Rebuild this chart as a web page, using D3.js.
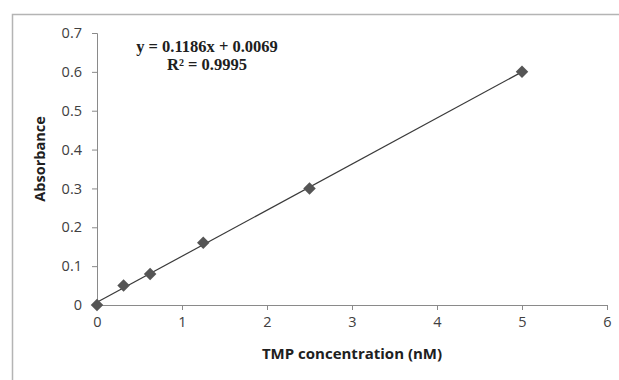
<!DOCTYPE html>
<html>
<head>
<meta charset="utf-8">
<script src="https://cdn.jsdelivr.net/npm/d3@7"></script>
<style>
  body { margin: 0; background: #fff; }
  svg { display: block; }
</style>
</head>
<body>
<div id="chart"></div>
<script>
const conc = [0, 0.3125, 0.625, 1.25, 2.5, 5];
const absorbance = [0, 0.05, 0.08, 0.16, 0.3, 0.6];
const slope = 0.1186, intercept = 0.0069;
const xTicks = [0, 1, 2, 3, 4, 5, 6];
const yTicks = [0, 0.1, 0.2, 0.3, 0.4, 0.5, 0.6, 0.7];

const W = 619, H = 380;
const margin = { top: 33, right: 12, bottom: 75, left: 97 };
const width = W - margin.left - margin.right;
const height = H - margin.top - margin.bottom;
const font = "'Open Sans', Lato, sans-serif";

const root = d3.select("#chart").append("svg")
    .attr("width", W)
    .attr("height", H);

// chart area border (runs off the right and bottom)
root.append("rect")
    .attr("x", 12.5).attr("y", 14.5)
    .attr("width", W + 20).attr("height", H + 20)
    .attr("fill", "none")
    .attr("stroke", "#b4b4b4")
    .attr("stroke-width", 1.5);

const svg = root.append("g")
    .attr("transform", `translate(${margin.left},${margin.top})`);

const x = d3.scaleLinear().domain([0, 6]).range([0, width]);
const y = d3.scaleLinear().domain([0, 0.7]).range([height, 0]);

const xAxis = svg.append("g")
    .attr("transform", `translate(0,${height})`)
    .call(d3.axisBottom(x).tickValues(xTicks).tickSize(5).tickPadding(7).tickFormat(d3.format("d")));

const yAxis = svg.append("g")
    .call(d3.axisLeft(y).tickValues(yTicks).tickSize(5).tickPadding(10).tickFormat(d => d === 0 ? "0" : d3.format(".1f")(d)));

[xAxis, yAxis].forEach(a => {
    a.select(".domain").attr("stroke", "#8a8a8a");
    a.selectAll(".tick line").attr("stroke", "#8a8a8a");
    a.selectAll(".tick text")
        .attr("fill", "#404040")
        .attr("font-family", font)
        .attr("font-size", "14.5px");
});

svg.append("text")
    .attr("x", width / 2)
    .attr("y", height + 54)
    .attr("text-anchor", "middle")
    .attr("font-family", font)
    .attr("font-weight", "bold")
    .attr("font-size", "15px")
    .attr("fill", "#202020")
    .text("TMP concentration (nM)");

svg.append("text")
    .attr("transform", "rotate(-90)")
    .attr("x", -(height / 2) + 10)
    .attr("y", -52)
    .attr("text-anchor", "middle")
    .attr("font-family", font)
    .attr("font-weight", "bold")
    .attr("font-size", "14.5px")
    .attr("fill", "#202020")
    .text("Absorbance");

// linear trendline
svg.append("line")
    .attr("x1", x(0)).attr("y1", y(intercept))
    .attr("x2", x(5)).attr("y2", y(slope * 5 + intercept))
    .attr("stroke", "#3a3a3a")
    .attr("stroke-width", 1.2);

svg.selectAll(".pt")
    .data(conc.map((c, i) => ({ c, a: absorbance[i] })))
    .enter()
    .append("path")
    .attr("class", "pt")
    .attr("d", d3.symbol().type(d3.symbolDiamond2).size(100))
    .attr("transform", d => `translate(${x(d.c)},${y(d.a)})`)
    .attr("fill", "#555555");

const eq = svg.append("text")
    .attr("text-anchor", "middle")
    .attr("font-family", "'Liberation Serif', 'Times New Roman', serif")
    .attr("font-weight", "bold")
    .attr("font-size", "16.5px")
    .attr("fill", "#202020");
eq.append("tspan").attr("x", 110).attr("y", 19).text(`y = ${slope}x + ${intercept}`);
eq.append("tspan").attr("x", 110).attr("y", 37).text("R² = 0.9995");
</script>
</body>
</html>
